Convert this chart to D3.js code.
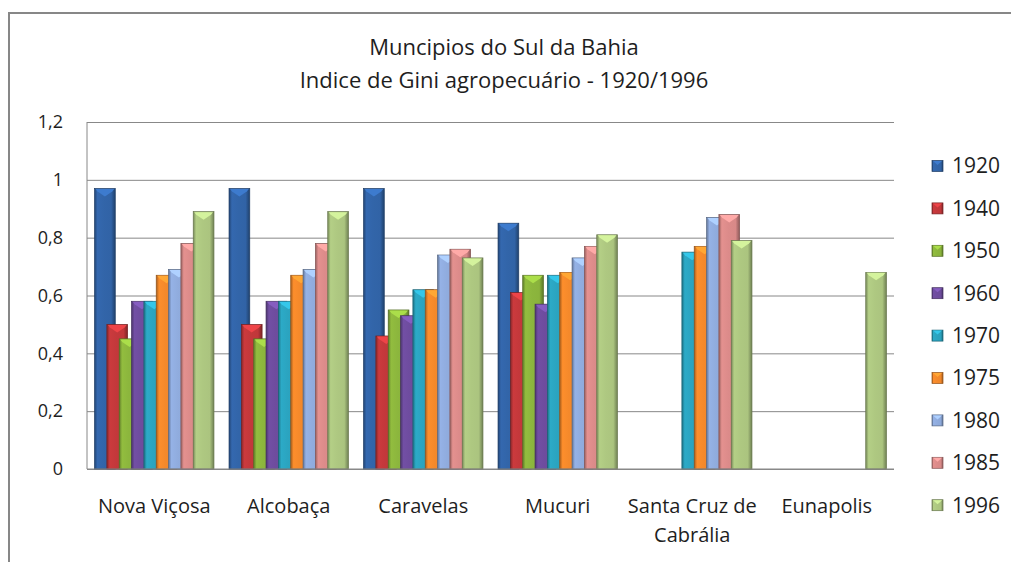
<!DOCTYPE html>
<html>
<head>
<meta charset="utf-8">
<script src="https://cdn.jsdelivr.net/npm/d3@7"></script>
<style>
  body { margin: 0; background: #fff; }
  text { font-family: "Open Sans", sans-serif; fill: #1e1e1e; }
</style>
</head>
<body>
<div id="chart"></div>
<script>
// data
const categories = ["Nova Viçosa", "Alcobaça", "Caravelas", "Mucuri", "Santa Cruz de Cabrália", "Eunapolis"];
const years = ["1920", "1940", "1950", "1960", "1970", "1975", "1980", "1985", "1996"];
const v1920 = [0.97, 0.97, 0.97, 0.85, null, null];
const v1940 = [0.50, 0.50, 0.46, 0.61, null, null];
const v1950 = [0.45, 0.45, 0.55, 0.67, null, null];
const v1960 = [0.58, 0.58, 0.53, 0.57, null, null];
const v1970 = [0.58, 0.58, 0.62, 0.67, 0.75, null];
const v1975 = [0.67, 0.67, 0.62, 0.68, 0.77, null];
const v1980 = [0.69, 0.69, 0.74, 0.73, 0.87, null];
const v1985 = [0.78, 0.78, 0.76, 0.77, 0.88, null];
const v1996 = [0.89, 0.89, 0.73, 0.81, 0.79, 0.68];
const yTicks = [0, 0.2, 0.4, 0.6, 0.8, 1, 1.2];
const titleLines = ["Muncipios do Sul da Bahia", "Indice de Gini agropecuário - 1920/1996"];

const seriesValues = [v1920, v1940, v1950, v1960, v1970, v1975, v1980, v1985, v1996];
const colors = ["#3163a6", "#c0373a", "#8ab33c", "#6c4b9b", "#2aa1bd", "#f0872a", "#8da9da", "#d88988", "#abc47f"];

const W = 1011, H = 562;
const plot = {left: 87, right: 894, top: 122, bottom: 469};

const svg = d3.select("#chart").append("svg")
  .attr("width", W).attr("height", H);

// outer chart frame (cut by the picture edge)
svg.append("rect")
  .attr("x", 9).attr("y", 13)
  .attr("width", W + 20).attr("height", H + 20)
  .attr("fill", "#fff")
  .attr("stroke", "#878787").attr("stroke-width", 2);

// title
svg.append("g").selectAll("text")
  .data(titleLines)
  .join("text")
  .attr("x", 504)
  .attr("y", (d, i) => 55 + i * 33)
  .attr("text-anchor", "middle")
  .style("font-size", "22px")
  .text(d => d);

const x = d3.scaleBand()
  .domain(categories)
  .range([plot.left, plot.right]);

const y = d3.scaleLinear()
  .domain([0, 1.2])
  .range([plot.bottom, plot.top]);

// gridlines
svg.append("g")
  .attr("transform", `translate(${plot.left},0)`)
  .call(d3.axisLeft(y).tickValues(yTicks).tickSize(-(plot.right - plot.left)).tickFormat(""))
  .call(g => g.select(".domain").remove())
  .call(g => g.selectAll("line").attr("stroke", "#888").attr("stroke-width", 1));

// y labels
svg.append("g")
  .attr("transform", `translate(${plot.left},0)`)
  .call(d3.axisLeft(y).tickValues(yTicks).tickSize(0).tickPadding(24)
    .tickFormat(d => String(d).replace(".", ",")))
  .call(g => g.select(".domain").remove())
  .call(g => g.selectAll("text").style("font-size", "18px").attr("fill", "#1e1e1e"));

// bar geometry: overlapping clustered bars
const groupW = x.bandwidth() * 0.888;
const barW = groupW / (8 * 0.595 + 1);
const step = barW * 0.595;
const inner = d3.scalePoint()
  .domain(years)
  .range([(x.bandwidth() - groupW) / 2, (x.bandwidth() - groupW) / 2 + 8 * step]);

// gradients for the bevelled look
const defs = svg.append("defs");
years.forEach((yr, i) => {
  const c = d3.color(colors[i]);
  const g = defs.append("linearGradient").attr("id", "grad" + yr)
    .attr("x1", "0%").attr("x2", "100%").attr("y1", "0%").attr("y2", "0%");
  g.append("stop").attr("offset", "0%").attr("stop-color", c.darker(1));
  g.append("stop").attr("offset", "14%").attr("stop-color", c.brighter(0.15));
  g.append("stop").attr("offset", "45%").attr("stop-color", c.brighter(0.05));
  g.append("stop").attr("offset", "80%").attr("stop-color", c);
  g.append("stop").attr("offset", "100%").attr("stop-color", c.darker(1.2));
});

// bars
years.forEach((yr, i) => {
  const data = categories.map((c, j) => ({cat: c, value: seriesValues[i][j]}))
    .filter(d => d.value != null);
  const g = svg.append("g").attr("class", "series-" + yr);
  const c = d3.color(colors[i]);

  g.selectAll("rect")
    .data(data)
    .join("rect")
    .attr("x", d => x(d.cat) + inner(yr))
    .attr("y", d => y(d.value))
    .attr("width", barW)
    .attr("height", d => y(0) - y(d.value))
    .attr("fill", `url(#grad${yr})`)
    .attr("stroke", c.darker(1.4))
    .attr("stroke-width", 0.7);

  // bevel cap on top
  g.selectAll("polygon")
    .data(data)
    .join("polygon")
    .attr("points", d => {
      const x0 = x(d.cat) + inner(yr), y0 = y(d.value);
      return [[x0 + 1, y0 + 0.5], [x0 + barW - 1, y0 + 0.5], [x0 + barW - 3, y0 + 3],
              [x0 + barW / 2, y0 + 8], [x0 + 3, y0 + 3]].join(" ");
    })
    .attr("fill", c.brighter(0.6));
});

// axis lines
svg.append("line")
  .attr("x1", plot.left).attr("x2", plot.right)
  .attr("y1", y(0)).attr("y2", y(0))
  .attr("stroke", "#888");
svg.append("line")
  .attr("x1", plot.left).attr("x2", plot.left)
  .attr("y1", plot.top).attr("y2", plot.bottom)
  .attr("stroke", "#888");

// category labels
svg.append("g")
  .attr("transform", `translate(0,${plot.bottom})`)
  .call(d3.axisBottom(x).tickSize(0).tickPadding(30))
  .call(g => g.select(".domain").remove())
  .call(g => g.selectAll("text").style("font-size", "20px").attr("fill", "#1e1e1e"))
  .selectAll(".tick text")
  .call(wrap, x.bandwidth() - 2);

function wrap(text, width) {
  text.each(function() {
    const t = d3.select(this);
    const words = t.text().split(/\s+/).reverse();
    const yy = t.attr("y"), dy = parseFloat(t.attr("dy"));
    let line = [], lineNumber = 0, word;
    let tspan = t.text(null).append("tspan").attr("x", 0).attr("y", yy).attr("dy", dy + "em");
    while ((word = words.pop())) {
      line.push(word);
      tspan.text(line.join(" "));
      if (tspan.node().getComputedTextLength() > width && line.length > 1) {
        line.pop();
        tspan.text(line.join(" "));
        line = [word];
        tspan = t.append("tspan").attr("x", 0).attr("y", yy)
          .attr("dy", (++lineNumber * 1.45 + dy) + "em").text(word);
      }
    }
  });
}

// legend
const legend = svg.append("g").selectAll("g")
  .data(years)
  .join("g")
  .attr("transform", (d, i) => `translate(932,${166 + i * 42.4})`);

legend.append("rect")
  .attr("x", 0).attr("y", -5.5)
  .attr("width", 11).attr("height", 11)
  .attr("fill", d => `url(#grad${d})`)
  .attr("stroke", (d, i) => d3.color(colors[i]).darker(1.4))
  .attr("stroke-width", 0.7);

legend.append("polygon")
  .attr("points", "1,-5 10,-5 5.5,-1")
  .attr("fill", (d, i) => d3.color(colors[i]).brighter(0.6));

legend.append("text")
  .attr("x", 20)
  .attr("dy", "0.35em")
  .style("font-size", "21px")
  .text(d => d);
</script>
</body>
</html>
